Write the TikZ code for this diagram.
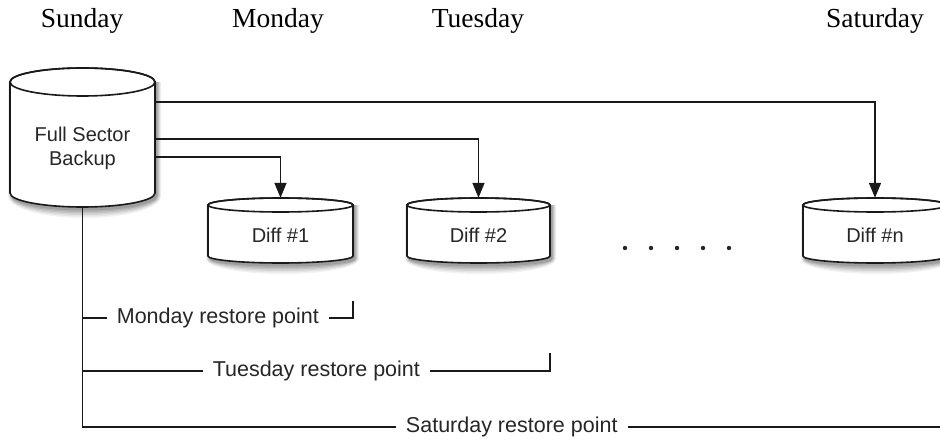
\documentclass[tikz,border=0pt]{standalone}
\usepackage{fontspec}
\setmainfont{Liberation Serif}
\setsansfont{Liberation Sans}
\usetikzlibrary{arrows.meta}

\tikzset{
  line/.style={draw=black!90, line width=1.6pt},
  arr/.style={line, -{Triangle[length=15pt,width=12pt]}},
  day/.style={font=\fontsize{27.5}{30}\selectfont, anchor=base, inner sep=0pt},
  cyltext/.style={font=\sffamily\fontsize{20}{24}\selectfont, align=center, text=black!85, inner sep=0pt},
  rlabel/.style={font=\sffamily\fontsize{21.5}{26}\selectfont, fill=white, inner xsep=10pt, inner ysep=1pt, text=black!85},
  dot/.style={fill=black!85},
}

% #1 name, #2 cx, #3 ytop, #4 ybot, #5 half width, #6 ry, #7 text, #8 text y
\newcommand\drum[8]{%
  \pgfmathsetmacro\xl{#2-#5}%
  \pgfmathsetmacro\xr{#2+#5}%
  \pgfmathsetmacro\yt{-(#3)-(#6)}%
  \pgfmathsetmacro\yb{-(#4)+(#6)}%
  \foreach \s/\o in {8/0.05,6.5/0.06,5/0.07,3.5/0.08,2/0.09,0.5/0.1}{%
    \fill[black,opacity=\o] ({\xl+2-\s*0.5},\yt) -- ({\xl+2-\s*0.5},{\yb-3}) arc[start angle=180,end angle=360,x radius={#5+\s*0.5},y radius={#6+\s}] -- ({\xr+2+\s*0.5},\yt) -- cycle;
  }%
  \filldraw[line, fill=white] (\xl,\yt) -- (\xl,\yb) arc[start angle=180,end angle=360,x radius=#5,y radius=#6] -- (\xr,\yt) arc[start angle=0,end angle=180,x radius=#5,y radius=#6] -- cycle;
  \draw[line] (#2,\yt) ellipse[x radius=#5,y radius=#6];
  \node[inner sep=0pt, minimum width={2*#5}, minimum height={#4-#3}] (#1) at (#2,{-(#3+#4)/2}) {};
  \node[cyltext] (#1-text) at (#2,-#8) {#7};
}

\begin{document}
\begin{tikzpicture}[x=1pt,y=1pt]
  \useasboundingbox (0,0) rectangle (940,-441);

  % day labels
  \node[day] (sun) at (82,-28) {Sunday};
  \node[day] (mon) at (278,-28) {Monday};
  \node[day] (tue) at (478,-28) {Tuesday};
  \node[day] (sat) at (875,-28) {Saturday};

  % cylinders
  \drum{full}{82.5}{68}{207}{72.5}{14}{Full Sector\\Backup}{148}
  \drum{diff1}{280.5}{198}{263}{72.5}{7}{Diff \#1}{235}
  \drum{diff2}{478.5}{198}{263}{71.5}{7}{Diff \#2}{235}
  \drum{diffn}{875}{198}{263}{72}{7}{Diff \#n}{235}

  % dots
  \foreach \x in {625,651,677,703,729} \fill[dot] (\x,-248) circle (2.2);

  % arrows from full backup
  \draw[arr] ([yshift=-34pt]full.north east) -| (diffn.north);
  \draw[arr] ([yshift=-71pt]full.north east) -| (diff2.north);
  \draw[arr] ([yshift=-89pt]full.north east) -| (diff1.north);

  % restore points
  \coordinate (trunk) at (full.south |- 0,-427);
  \coordinate (satend) at (941,-427);
  \draw[line] (full.south) -- (trunk) -- node[rlabel] {Saturday restore point} (satend);
  \draw[line] (full.south |- 0,-318) -- node[rlabel] {Monday restore point} (diff1.east |- 0,-318) -- ++(0,17);
  \draw[line] (full.south |- 0,-371) -- node[rlabel] {Tuesday restore point} (diff2.east |- 0,-371) -- ++(0,18);
\end{tikzpicture}
\end{document}
